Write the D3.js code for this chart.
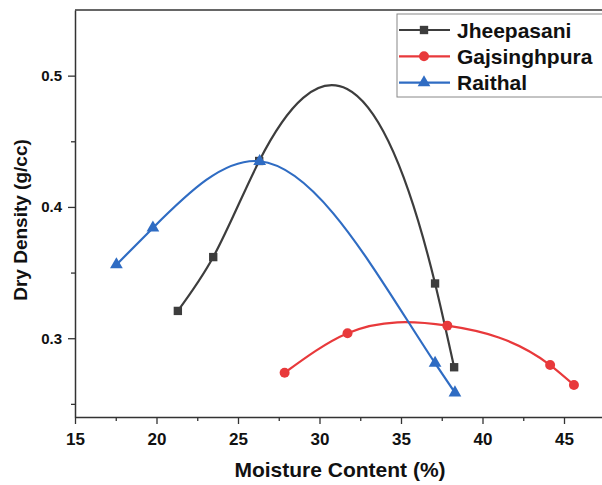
<!DOCTYPE html>
<html><head><meta charset="utf-8">
<script src="https://cdn.jsdelivr.net/npm/d3@7"></script>
<style>body{margin:0;background:#fff}svg{display:block}text{font-family:"Liberation Sans",Arial,sans-serif;font-weight:bold;fill:#111}</style>
</head><body><svg id="c" width="602" height="485"></svg>
<script>
const seriesNames = ["Jheepasani","Gajsinghpura","Raithal"];
const jheepasaniX = [21.31, 23.48, 26.3, 37.09, 38.26];
const jheepasaniY = [0.3208, 0.3618, 0.435, 0.3417, 0.2779];
const gajsinghpuraX = [27.86, 31.72, 37.84, 44.15, 45.61];
const gajsinghpuraY = [0.2737, 0.3038, 0.3096, 0.2796, 0.2644];
const raithalX = [17.54, 19.78, 26.33, 37.09, 38.31];
const raithalY = [0.356, 0.384, 0.4348, 0.281, 0.2585];
const xTicks = [15,20,25,30,35,40,45];
const yTicks = [0.3,0.4,0.5];

const colors = ["#3d3d3d","#e8393b","#2f6cc3"];
const symbols = [d3.symbolSquare, d3.symbolCircle, d3.symbolTriangle];
const symSizes = [70, 78, 70];
const data = [
  d3.zip(jheepasaniX, jheepasaniY),
  d3.zip(gajsinghpuraX, gajsinghpuraY),
  d3.zip(raithalX, raithalY)
];

// natural cubic spline in x (y as function of x), emitted as exact Bezier segments
function curveSplineX(context){
  let xs, ys;
  return {
    areaStart(){}, areaEnd(){},
    lineStart(){ xs=[]; ys=[]; },
    point(x,y){ xs.push(+x); ys.push(+y); },
    lineEnd(){
      const n = xs.length;
      if(!n) return;
      context.moveTo(xs[0], ys[0]);
      if(n===1) return;
      const h=[], d=[];
      for(let i=0;i<n-1;i++){ h[i]=xs[i+1]-xs[i]; d[i]=(ys[i+1]-ys[i])/h[i]; }
      const M=new Array(n).fill(0);
      if(n>2){
        const m=n-2, a=[], b=[], c=[], r=[];
        for(let k=0;k<m;k++){
          const i=k+1;
          a[k]=h[i-1]; b[k]=2*(h[i-1]+h[i]); c[k]=h[i]; r[k]=6*(d[i]-d[i-1]);
        }
        for(let k=1;k<m;k++){ const w=a[k]/b[k-1]; b[k]-=w*c[k-1]; r[k]-=w*r[k-1]; }
        const sol=new Array(m);
        sol[m-1]=r[m-1]/b[m-1];
        for(let k=m-2;k>=0;k--) sol[k]=(r[k]-c[k]*sol[k+1])/b[k];
        for(let k=0;k<m;k++) M[k+1]=sol[k];
      }
      for(let i=0;i<n-1;i++){
        const s0 = d[i] - h[i]*(2*M[i]+M[i+1])/6;
        const s1 = d[i] + h[i]*(M[i]+2*M[i+1])/6;
        context.bezierCurveTo(xs[i]+h[i]/3, ys[i]+s0*h[i]/3, xs[i+1]-h[i]/3, ys[i+1]-s1*h[i]/3, xs[i+1], ys[i+1]);
      }
    }
  };
}

const svg = d3.select("#c");
const x = d3.scaleLinear().domain([15, 48]).range([75, 75+33*16.3]);
const y = d3.scaleLinear().domain([0.24, 0.55]).range([417, 10]);

// frame top
svg.append("line").attr("x1",x(15)).attr("x2",620).attr("y1",10).attr("y2",10)
  .attr("stroke","#333").attr("stroke-width",1.5);

// axes
const xMinor = d3.range(17.5, 48, 5);
const yMinor = [0.25,0.35,0.45];
const gx = svg.append("g").attr("transform",`translate(0,${y.range()[0]})`);
gx.call(d3.axisBottom(x).tickValues(xTicks).tickFormat(d3.format("d")).tickSize(7).tickSizeOuter(0));
gx.append("g").call(d3.axisBottom(x).tickValues(xMinor).tickFormat("").tickSize(4).tickSizeOuter(0))
  .select(".domain").remove();
const gy = svg.append("g").attr("transform",`translate(${x(15)},0)`);
gy.call(d3.axisLeft(y).tickValues(yTicks).tickFormat(d3.format(".1f")).tickSize(7).tickSizeOuter(0));
gy.append("g").call(d3.axisLeft(y).tickValues(yMinor).tickFormat("").tickSize(4).tickSizeOuter(0))
  .select(".domain").remove();
svg.selectAll(".domain").attr("stroke","#333").attr("stroke-width",1.5);
svg.selectAll(".tick line").attr("stroke","#333").attr("stroke-width",1.3);
gx.selectAll(".tick text").attr("font-size",17).attr("dy","1.07em").attr("font-family",null);
gy.selectAll(".tick text").attr("font-size",15).attr("dx","-0.2em").attr("font-family",null);

// titles
svg.append("text").attr("x",340).attr("y",477).attr("text-anchor","middle").attr("font-size",21)
  .text("Moisture Content (%)");
svg.append("text").attr("transform","translate(27,220) rotate(-90)").attr("text-anchor","middle")
  .attr("font-size",19).text("Dry Density (g/cc)");

// series
const line = d3.line().x(d=>x(d[0])).y(d=>y(d[1])).curve(curveSplineX);
data.forEach((pts,i)=>{
  const g = svg.append("g");
  g.append("path").attr("d",line(pts)).attr("fill","none").attr("stroke",colors[i]).attr("stroke-width",2.2);
  g.selectAll("path.m").data(pts).join("path").attr("class","m")
    .attr("d",d3.symbol().type(symbols[i]).size(symSizes[i]))
    .attr("transform",d=>`translate(${x(d[0])},${y(d[1])})`)
    .attr("fill",colors[i]);
});

// legend
const lg = svg.append("g");
lg.append("rect").attr("x",397).attr("y",14).attr("width",215).attr("height",83)
  .attr("fill","#fff").attr("stroke","#888").attr("stroke-width",1);
seriesNames.forEach((name,i)=>{
  const cy = 30 + i*26.3;
  lg.append("line").attr("x1",399).attr("x2",450).attr("y1",cy).attr("y2",cy)
    .attr("stroke",colors[i]).attr("stroke-width",2.2);
  lg.append("path").attr("d",d3.symbol().type(symbols[i]).size(symSizes[i]))
    .attr("transform",`translate(424,${cy})`).attr("fill",colors[i]);
  lg.append("text").attr("x",457).attr("y",cy+7.5).attr("font-size",21).text(name);
});
</script></body></html>
